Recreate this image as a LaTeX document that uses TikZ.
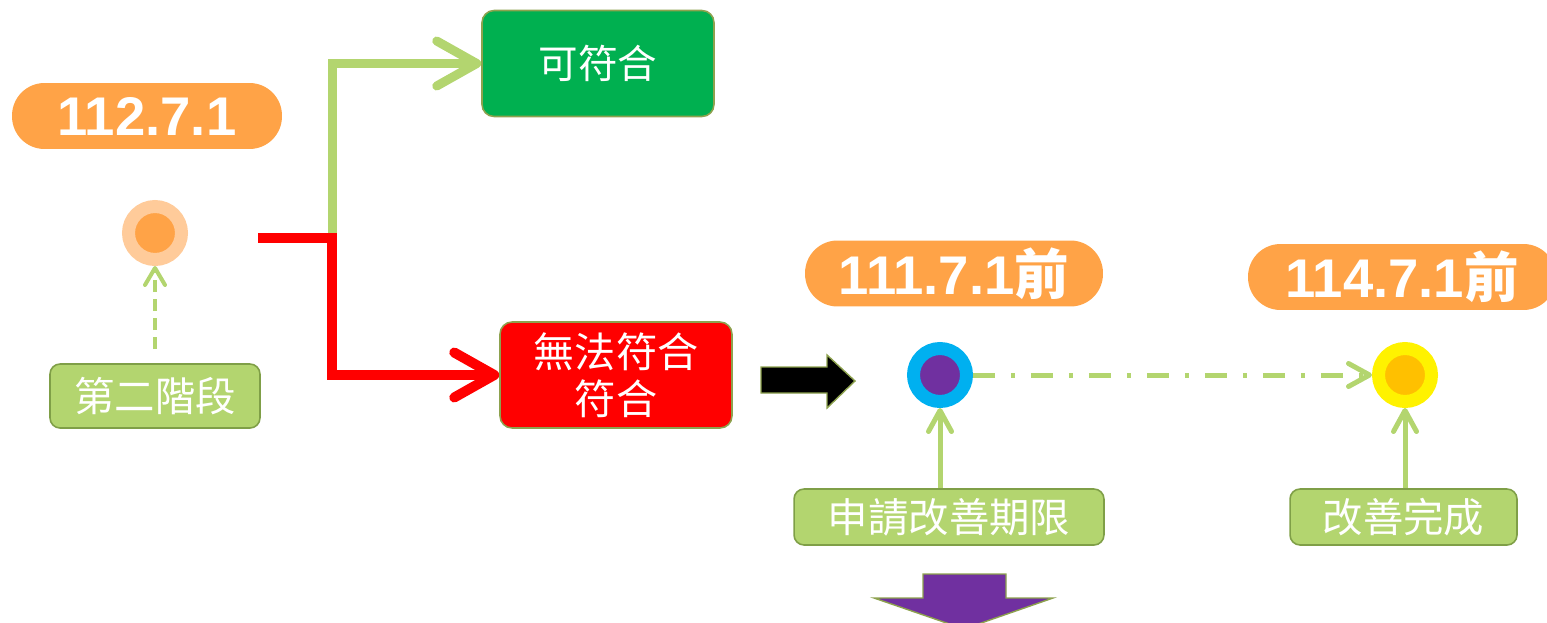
\documentclass[tikz,border=0pt]{standalone}
\usepackage{fontspec}
\setsansfont{Liberation Sans}
\newfontfamily\cjk{Noto Sans CJK TC}
\newfontfamily\cjkbold{Noto Sans CJK TC Bold}
\usetikzlibrary{arrows.meta}

\definecolor{pillorange}{HTML}{FFA347}
\definecolor{peach}{HTML}{FFCB9A}
\definecolor{labelgreen}{HTML}{B3D56F}
\definecolor{labelborder}{HTML}{7F9F47}
\definecolor{passgreen}{HTML}{00B050}
\definecolor{boxborder}{HTML}{8DA24E}
\definecolor{ringblue}{HTML}{00B0F0}
\definecolor{corepurple}{HTML}{7030A0}
\definecolor{coregold}{HTML}{FFC000}

\begin{document}
\begin{tikzpicture}[x=0.02cm, y=-0.02cm,
    datepill/.style={fill=pillorange, rounded corners=0.65cm, text=white, minimum height=1.32cm, inner sep=0pt, font=\sffamily\bfseries\fontsize{31}{33}\selectfont},
    stagelabel/.style={fill=labelgreen, draw=labelborder, line width=0.9pt, rounded corners=0.2cm, text=white, minimum height=1.12cm, inner sep=0pt, font=\cjk\fontsize{23}{26}\selectfont},
    resultbox/.style={draw=boxborder, line width=0.9pt, rounded corners=0.24cm, text=white, minimum width=4.64cm, minimum height=2.12cm, inner sep=0pt, align=center, font=\cjk\fontsize{23.4}{27}\selectfont},
    dot/.style={circle, minimum size=1.06cm, inner sep=0pt, line width=0.26cm},
    bigarrow/.style={line width=0.18cm, -{Straight Barb[length=0.8cm, width=0.9cm, round]}},
    thinarrow/.style={draw=labelgreen, line width=0.1cm, -{Straight Barb[length=0.42cm, width=0.46cm, round]}},
    ]
\useasboundingbox (0,0) rectangle (1547,622);

% Date labels
\node[datepill, minimum width=5.4cm] (d1) at (147,116) {112.7.1};
\node[datepill, minimum width=5.96cm] (d2) at (954,273.5) {111.7.1{\cjkbold 前}};
\node[datepill, minimum width=6.16cm] (d3) at (1402,277) {114.7.1{\cjkbold 前}};

% Time points
\node[dot, draw=peach, fill=pillorange] (c1) at (155,233) {};
\node[dot, draw=ringblue, fill=corepurple] (c2) at (940,375) {};
\node[dot, draw=yellow, fill=coregold] (c3) at (1405,375) {};

% Labels below the points
\node[stagelabel, minimum width=4.2cm, minimum height=1.28cm] (s2) at (155,396) {第二階段};
\node[stagelabel, minimum width=6.2cm] (apply) at (949,517) {申請改善期限};
\node[stagelabel, minimum width=4.54cm] (done) at (1403.5,517) {改善完成};

% Outcomes
\node[resultbox, fill=passgreen, font=\cjk\fontsize{22.5}{27}\selectfont] (pass) at (598,63.5) {可符合};
\node[resultbox, fill=red] (fail) at (616,375) {無法符合\\符合};

% Branches
\coordinate (start) at (258,238);
\coordinate (split) at (332,238);
\draw[bigarrow, draw=labelgreen] (split) |- (pass.west);
\draw[bigarrow, draw=red, line width=0.2cm] (start) -- (split) |- (fail.west);

% Pointers to the points
\draw[thinarrow, line width=0.08cm, dash pattern=on 0.24cm off 0.14cm, shorten <=0.28cm, -{Straight Barb[length=0.34cm, width=0.4cm, round]}] (s2.north) -- (c1.south);
\draw[thinarrow] (c2 |- apply.north) -- (c2.south);
\draw[thinarrow] (c3 |- done.north) -- (c3.south);
\draw[thinarrow, dash pattern=on 0.44cm off 0.32cm on 0.08cm off 0.32cm] (c2.east) -- (c3.west);

% Block arrows
\draw[fill=black, draw=boxborder, line width=0.8pt] (761,367) -- (827,367) -- (827,355) -- (855,381) -- (827,408) -- (827,393) -- (761,393) -- cycle;
\draw[fill=corepurple, draw=boxborder, line width=0.8pt] (923,574) -- (1006,574) -- (1006,598) -- (1053,598) -- (964,629) -- (874,598) -- (923,598) -- cycle;

\end{tikzpicture}
\end{document}
